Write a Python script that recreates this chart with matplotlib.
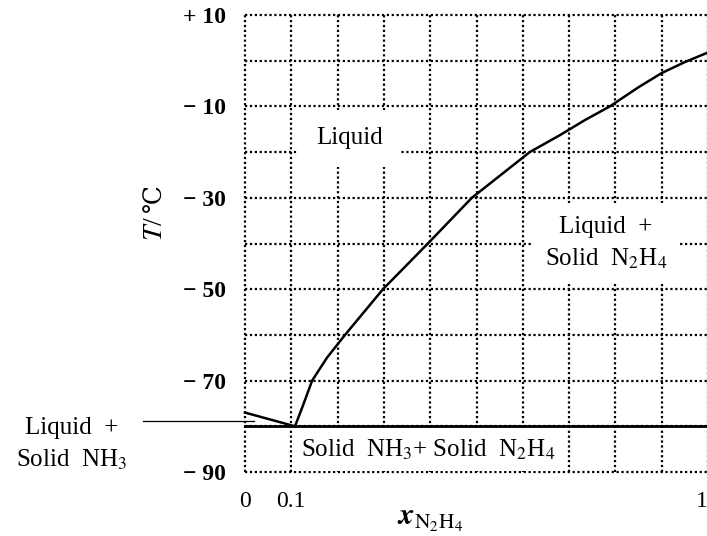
import matplotlib
matplotlib.use('Agg')
import matplotlib.pyplot as plt
import numpy as np

plt.rcParams['font.family'] = ['Liberation Serif', 'DejaVu Serif', 'Noto Sans CJK SC']
plt.rcParams['mathtext.fontset'] = 'stix'

# liquidus NH3 side
nh3_x = [0.0, 0.108]
nh3_T = [-77.0, -80.0]
# liquidus N2H4 side
n2h4_x = [0.108, 0.125, 0.145, 0.177, 0.216, 0.298, 0.395, 0.49, 0.615, 0.68, 0.734,
          0.788, 0.85, 0.9, 0.95, 1.0]
n2h4_T = [-80.0, -75.5, -70.0, -65.0, -60.0, -50.0, -40.0, -30.0, -20.0, -16.3, -13.0,
          -10.0, -5.8, -2.7, -0.3, 1.8]
eutectic_T = -80.0

ytick_vals = [10, -10, -30, -50, -70, -90]
ytick_labels = ['+ 10', '− 10', '− 30', '− 50', '− 70', '− 90']
xtick_vals = [0, 0.1, 1]
xtick_labels = ['0', '0.1', '1']

fig = plt.figure(figsize=(7.07, 5.36), dpi=100)
ax = fig.add_axes([245 / 707, 64 / 536, 463 / 707, 457 / 536])
ax.set_xlim(0, 1)
ax.set_ylim(-90, 10)

dots = (0, (1.0, 1.2))
for yv in np.arange(-90, 11, 10):
    ax.axhline(yv, color='black', lw=1.6, ls=dots, zorder=1, clip_on=False)
for xv in np.arange(0, 1.01, 0.1):
    ax.axvline(xv, color='black', lw=1.6, ls=dots, zorder=1, clip_on=False)

ax.plot(nh3_x, nh3_T, color='black', lw=1.8, zorder=4, clip_on=False)
ax.plot(n2h4_x, n2h4_T, color='black', lw=1.8, zorder=4, clip_on=False)
ax.plot([0, 1], [eutectic_T, eutectic_T], color='black', lw=2.0, zorder=4, clip_on=False)

for s in ax.spines.values():
    s.set_visible(False)

ax.set_yticks(ytick_vals, ytick_labels, fontsize=17, fontweight='bold')
ax.set_xticks(xtick_vals, xtick_labels, fontsize=17)
ax.get_xticklabels()[-1].set_ha('right')
ax.tick_params(axis='y', length=0, pad=14)
ax.tick_params(axis='x', length=0, pad=14)

lab = dict(fontsize=18, ha='center', va='center', zorder=3)
ax.text(0.225, -17, 'Liquid', **lab,
        bbox=dict(boxstyle='square,pad=0.7', fc='white', ec='none'))
ax.text(0.78, -40, 'Liquid  +\nSolid  N$_2$H$_4$', linespacing=1.5, **lab,
        bbox=dict(boxstyle='square,pad=0.5', fc='white', ec='none'))
ax.text(0.395, -85.2, 'Solid  NH$_3$+ Solid  N$_2$H$_4$', **lab,
        bbox=dict(boxstyle='square,pad=0.35', fc='white', ec='none'))
ax.text(-0.375, -84, 'Liquid  +\nSolid  NH$_3$', linespacing=1.5, clip_on=False, **lab)
ax.plot([-0.22, 0.02], [-78.8, -78.8], color='black', lw=0.9, clip_on=False, zorder=4)

fig.text(430 / 707, 1 - 520 / 536, r'$\boldsymbol{x}_{\mathrm{N_2H_4}}$', fontsize=22,
         ha='center', va='center')
fig.text(155 / 707, 1 - 228 / 536, '$T$/', fontsize=20, rotation=90,
         ha='center', va='center')
fig.text(155 / 707, 1 - 198 / 536, '℃', fontsize=18, rotation=90,
         ha='center', va='center', family=['DejaVu Serif', 'Noto Sans CJK SC'])

plt.savefig('out.png', dpi=100)
